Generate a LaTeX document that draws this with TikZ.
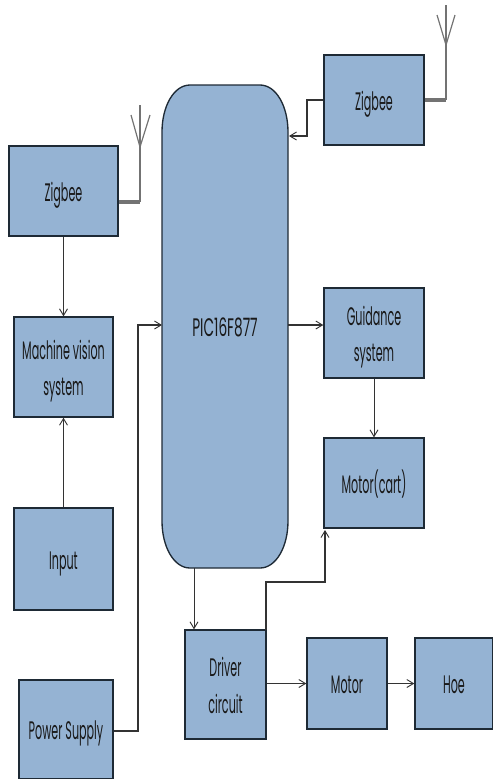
\documentclass[tikz,border=0pt]{standalone}
\usepackage{fontspec}
\setmainfont[FakeStretch=0.44]{Poppins}
\newfontfamily\picfont[FakeStretch=0.54]{Poppins}
\usetikzlibrary{arrows.meta,calc}
\definecolor{boxblue}{HTML}{95B3D3}
\definecolor{edgedark}{HTML}{1E2A35}
\tikzset{
  x=0.75pt,y=-0.75pt,
  blk/.style={draw=edgedark,line width=1pt,fill=boxblue,inner sep=0pt,font=\fontsize{19}{27.5}\selectfont,text=black!90},
  conn/.style={draw=black!80,line width=0.8pt,-{Straight Barb[length=5pt,width=6pt,line width=0.7pt]}},
  thinconn/.style={conn,line width=0.6pt},
  boldconn/.style={conn,line width=1.2pt},
  ant/.style={draw=black!55,line width=0.9pt},
  antfeed/.style={draw=black!55,line width=2.4pt}
}
\newcommand{\lbl}[1]{\raisebox{-2.25pt}[\height][\depth]{\begin{tabular}{@{}c@{}}#1\end{tabular}}}
\newcommand{\bx}[6]{\node[blk,minimum width=#4*0.75pt,minimum height=#5*0.75pt] (#1) at (#2,#3) {\lbl{#6}};}
\begin{document}
\begin{tikzpicture}
\useasboundingbox (0,0) rectangle (493,779);
\bx{zl}{63.5}{191}{109}{90}{Zigbee}
\bx{zr}{374}{100}{100}{90}{Zigbee}
\bx{mv}{63.5}{367}{99}{100}{Machine vision\\system}
\bx{inp}{63.5}{559}{99}{102}{Input}
\bx{ps}{66}{729.5}{94}{99}{Power Supply}
\bx{gs}{374}{333}{100}{90}{Guidance\\system}
\bx{mc}{374}{483}{100}{90}{Motor(cart)}
\bx{dc}{225.5}{684.5}{81}{109}{Driver\\circuit}
\bx{mo}{347}{683.5}{80}{91}{Motor}
\bx{ho}{454}{683.5}{78}{91}{Hoe}
% PIC body
\draw[blk] (190,85) -- (260,85) .. controls (276,85) and (288,106) .. (288,132)
  -- (288,521) .. controls (288,547) and (276,568) .. (260,568)
  -- (190,568) .. controls (174,568) and (162,547) .. (162,521)
  -- (162,132) .. controls (162,106) and (174,85) .. (190,85) -- cycle;
\node[font=\fontsize{19}{27.5}\selectfont\picfont,minimum width=94.5pt,minimum height=362.25pt,inner sep=0pt,text=black!90] (pic) at (225,326.5) {\lbl{PIC16F877}};
% free-end coordinates
\coordinate (psbend) at (138,731);
\coordinate (picin) at (162,325);
\coordinate (picdn) at (194,568);
\coordinate (zrbend) at (307,100);
\coordinate (picz) at (289,136);
\coordinate (dcout) at (266,630);
\coordinate (mcin) at (325,530);
\coordinate (la) at (140,147);
\coordinate (lt) at (140,105);
\coordinate (lf) at (140,202);
\coordinate (ra) at (446,45);
\coordinate (rt) at (446,5);
% connectors
\draw[thinconn] (zl.south) -- (mv.north);
\draw[thinconn] (inp.north) -- (mv.south);
\draw[conn] (ps.east |- psbend) -- (psbend) -- (psbend |- picin) -- (picin);
\draw[conn] (pic.east |- picin) -- (gs.west |- picin);
\draw[thinconn] (gs.south) -- (mc.north);
\draw[thinconn] (picdn) -- (picdn |- dc.north);
\draw[conn] (dcout) -- (266,582) -- (325,582) -- (mcin);
\draw[boldconn] (dc.east |- mo.west) -- (mo.west);
\draw[boldconn] (mo.east) -- (ho.west);
\draw[conn] (zr.west) -- (zrbend) -- (zrbend |- picz) -- (picz);
% antennas
\draw[antfeed] (zl.east |- lf) -- (lf);
\draw[ant] (lf) -- (lt);
\draw[ant] (131,115) -- (la) -- (150,115);
\draw[antfeed] (zr.east) -- (ra |- zr.east);
\draw[ant] (ra |- zr.east) -- (rt);
\draw[ant] (437,15) -- (ra) -- (455,15);
\end{tikzpicture}
\end{document}
